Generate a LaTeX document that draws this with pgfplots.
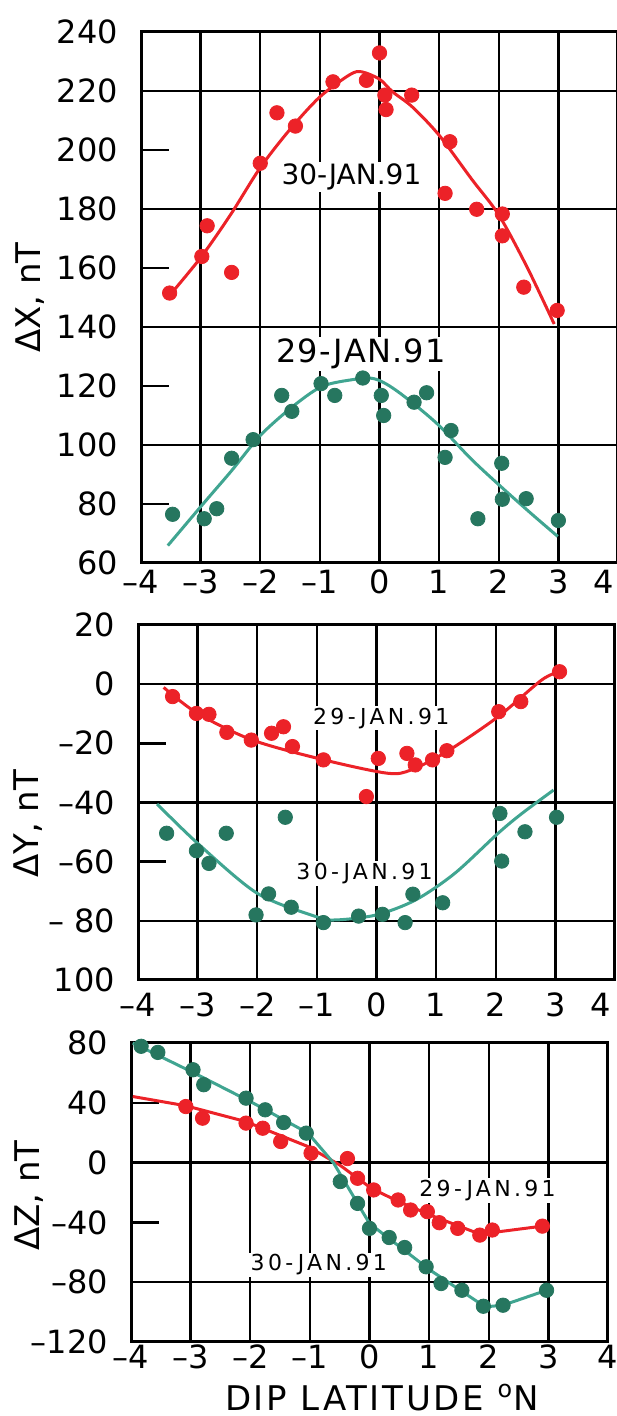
\documentclass[border=0pt]{standalone}
\usepackage{fontspec}
\setmainfont{DejaVu Sans}
\usepackage{pgfplots}
\pgfplotsset{compat=1.18}
\definecolor{cred}{RGB}{236,34,40}
\definecolor{cgdot}{RGB}{38,118,95}
\definecolor{cgline}{RGB}{64,165,145}
\newcommand{\tfont}{\fontsize{16}{18}\selectfont}
\newcommand{\lfont}{\fontsize{17}{20}\selectfont}
\newcommand{\sfont}{\fontsize{11}{13}\selectfont\addfontfeature{LetterSpace=15}}
\tikzset{lab/.style={fill=white, inner sep=1pt, anchor=base}}
\pgfplotsset{
  myax/.style={
    scale only axis, width=238.5pt, xmin=-4, xmax=4, clip=false,
    xtick={-4,...,4}, xticklabels={–4,–3,–2,–1,0,1,2,3,4},
    xmajorgrids, grid style={black, line width=1.2pt},
    xtick style={draw=none},
    ytick style={black, line width=1.2pt},
    ytick pos=left,
    major tick length=14pt, tick align=inside,
    axis line style={black, line width=1.5pt},
    ticklabel style={font=\tfont},
    yticklabel style={xshift=-8pt},
    label style={font=\lfont},
    extra y tick labels={},
    extra y tick style={grid=major, major tick length=0pt},
  },
  rdots/.style={only marks, mark=*, mark size=3.6pt, mark options={draw=cred, fill=cred}},
  gdots/.style={only marks, mark=*, mark size=3.6pt, mark options={draw=cgdot, fill=cgdot}},
  rline/.style={no marks, smooth, cred, line width=1.5pt},
  gline/.style={no marks, smooth, cgline, line width=1.5pt},
}
\begin{document}
\begin{tikzpicture}
\useasboundingbox (0,0) rectangle (308pt,708pt);
% ---------------- Panel 1: Delta X ----------------
\begin{axis}[myax, at={(70.5pt,426.5pt)}, anchor=south west, height=265.5pt,
  ymin=60, ymax=240, ytick={60,80,...,240},
  yticklabels={60,80,100,120,140,160,180,200,220,240},
  xticklabels={–4,–3,–2,–1,0,1,2,3,\makebox[0pt][r]{4\hspace{2pt}}},
  extra y ticks={100,140,180,220},
  ylabel={ΔX, nT},
  ylabel style={at={(axis description cs:-0.233,0.5)}, anchor=center},
]
\addplot[rline] coordinates {(-3.55,150) (-3.0,163.5) (-2.5,178) (-2.0,194) (-1.5,207) (-1.0,218) (-0.5,225.5) (-0.3,226.5) (0,224) (0.22,219.7) (0.55,214.6) (1.0,205) (1.55,190) (2.0,178) (2.47,160.5) (2.93,141)};
\addplot[rdots] coordinates {(-3.52,151.5) (-2.98,163.9) (-2.89,174.3) (-2.48,158.5) (-2.00,195.5) (-1.72,212.6) (-1.41,208.1) (-0.78,223.1) (-0.22,223.6) (0.00,232.9) (0.09,218.6) (0.11,213.7) (0.54,218.6) (1.18,202.8) (1.10,185.3) (1.63,179.9) (2.06,178.3) (2.06,170.9) (2.42,153.5) (2.98,145.6)};
\addplot[gline] coordinates {(-3.55,65.9) (-2.96,80) (-2.48,91.3) (-2.0,103.2) (-1.47,112.8) (-0.98,119.7) (-0.5,122) (-0.1,122.5) (0.28,118.5) (0.94,107.7) (1.54,95.2) (2.03,86) (2.53,77) (2.99,69)};
\addplot[gdots] coordinates {(-3.47,76.5) (-2.94,75) (-2.73,78.4) (-2.48,95.5) (-2.12,101.8) (-1.64,116.8) (-1.47,111.4) (-0.98,120.8) (-0.75,116.8) (-0.28,122.7) (0.03,116.8) (0.07,110) (0.58,114.5) (0.79,117.7) (1.2,104.9) (1.1,95.8) (1.65,75) (2.05,93.8) (2.06,81.6) (2.46,81.8) (3.0,74.4)};
\node[lab, font=\fontsize{14}{16}\selectfont] at (axis cs:-0.47,188.2) {30-JAN.91};
\node[lab, font=\fontsize{16}{18}\selectfont\addfontfeature{LetterSpace=4}] at (axis cs:-0.31,128) {29-JAN.91};
\end{axis}
% ---------------- Panel 2: Delta Y ----------------
\begin{axis}[myax, at={(69pt,218pt)}, anchor=south west, height=177.5pt,
  ymin=-100, ymax=20, ytick={-100,-80,...,20},
  yticklabels={100,– 80,–60,–40,–20,0,20},
  xticklabels={–4,–3,–2,–1,0,1,2,3,\makebox[0pt][r]{4\hspace{2pt}}},
  extra y ticks={-80,-40,0},
  xticklabel style={yshift=-3pt},
  ylabel={ΔY, nT},
  ylabel style={at={(axis description cs:-0.231,0.44)}, anchor=center},
]
\addplot[rline] coordinates {(-3.57,-1.1) (-3.0,-9.9) (-2.08,-18.9) (-0.88,-25.6) (0.18,-30.1) (0.58,-29) (1.18,-22.8) (2.04,-11) (2.77,1.4) (3.07,4.2)};
\addplot[rdots] coordinates {(-3.42,-4.2) (-3.02,-9.9) (-2.81,-10.2) (-2.51,-16.3) (-2.1,-18.9) (-1.76,-16.6) (-1.56,-14.4) (-1.41,-21.1) (-0.89,-25.6) (0.03,-25.1) (-0.17,-38.0) (0.51,-23.4) (0.65,-27.3) (0.94,-25.6) (1.18,-22.5) (2.05,-9.3) (2.42,-5.9) (3.07,4.2)};
\addplot[gline] coordinates {(-3.68,-40.5) (-3.0,-53.8) (-2.0,-70.7) (-1.01,-78.6) (-0.68,-79.7) (0.0,-78) (0.65,-73) (1.31,-64) (2.04,-50.4) (2.44,-43.7) (2.97,-35.8)};
\addplot[gdots] coordinates {(-3.52,-50.4) (-3.02,-56.3) (-2.81,-60.6) (-2.52,-50.4) (-1.53,-45.0) (-2.02,-78.0) (-1.81,-70.9) (-1.43,-75.4) (-0.89,-80.6) (-0.3,-78.4) (0.1,-77.8) (0.48,-80.6) (0.61,-71.0) (1.11,-73.9) (2.07,-43.7) (2.1,-59.8) (2.49,-49.9) (3.02,-45.0)};
\node[lab, font=\sfont] at (axis cs:0.08,-13.5) {29-JAN.91};
\node[lab, font=\sfont] at (axis cs:-0.2,-66) {30-JAN.91};
\end{axis}
% ---------------- Panel 3: Delta Z ----------------
\begin{axis}[myax, at={(65.5pt,37pt)}, anchor=south west, height=149.5pt,
  ymin=-120, ymax=80, ytick={-120,-80,...,80},
  yticklabels={–120,–80,–40,0,40,80},
  extra y ticks={-80,0},
  xticklabel style={yshift=2pt},
  ylabel={ΔZ, nT},
  ylabel style={at={(axis description cs:-0.214,0.49)}, anchor=center},
  xlabel={DIP LATITUDE \textsuperscript{o}N},
  xlabel style={at={(axis description cs:0.526,-0.185)}, anchor=center, font=\fontsize{17}{20}\selectfont\addfontfeature{LetterSpace=8}},
]
\addplot[cred, line width=1.5pt, no marks] coordinates {(-3.97,44.2) (-3.08,38) (-2.08,27.5) (-1.03,10.7) (-0.5,-1.6) (0.03,-17.2) (0.49,-26.1) (1.09,-36.2) (1.75,-46.3) (2.08,-46.7) (2.9,-42.5)};
\addplot[rdots] coordinates {(-3.08,37.5) (-2.8,29.7) (-2.07,26.4) (-1.79,23.0) (-1.49,14.1) (-0.98,6.3) (-0.37,2.7) (-0.2,-10.5) (0.07,-18.3) (0.48,-25) (0.69,-31.7) (0.97,-32.8) (1.17,-40.2) (1.48,-44) (1.85,-48.5) (2.06,-45.1) (2.9,-42.5)};
\addplot[cgline, line width=1.5pt, no marks] coordinates {(-3.97,80) (-2.94,59.9) (-1.95,39.8) (-1.03,19.7) (-0.6,-0.4) (0,-40.7) (1.02,-72) (1.94,-96.5) (2.24,-95.4) (2.97,-85.4)};
\addplot[gdots] coordinates {(-3.83,77.8) (-3.55,73.7) (-2.96,62.1) (-2.78,52.1) (-2.07,43.1) (-1.75,35.3) (-1.44,26.8) (-1.06,19.7) (-0.49,-12.7) (-0.2,-27.3) (0.0,-44) (0.33,-50.1) (0.59,-56.8) (0.95,-69.7) (1.2,-80.9) (1.55,-85.4) (1.91,-96.1) (2.24,-95.4) (2.97,-85.4)};
\node[lab, font=\sfont] at (axis cs:1.98,-22.8) {29-JAN.91};
\node[lab, font=\sfont] at (axis cs:-0.85,-72.4) {30-JAN.91};
\end{axis}
\end{tikzpicture}
\end{document}
